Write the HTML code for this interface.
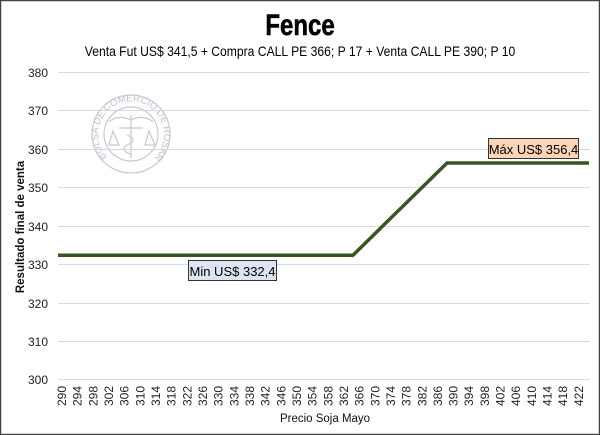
<!DOCTYPE html>
<html><head><meta charset="utf-8"><style>
html,body{margin:0;padding:0;background:#fff;}
svg{display:block;font-family:"Liberation Sans",sans-serif;}
</style></head><body>
<svg width="600" height="435" viewBox="0 0 600 435" xmlns="http://www.w3.org/2000/svg">
<rect x="0.5" y="0.5" width="599" height="434" fill="#fff" stroke="#444" stroke-width="1.5"/>
<text x="300" y="35" text-anchor="middle" font-size="30" font-weight="bold" stroke="#000" stroke-width="0.6" transform="translate(300 0) scale(0.8 1) translate(-300 0)" fill="#000">Fence</text>
<text x="300" y="56" text-anchor="middle" font-size="13.5" fill="#000" transform="translate(300 0) scale(0.9 1) translate(-300 0)">Venta Fut US$ 341,5 + Compra CALL PE 366; P 17 + Venta CALL PE 390; P 10</text>
<!-- seal -->
<g fill="none" stroke="#c4c9d4" stroke-width="1.2">
<circle cx="131" cy="134" r="39"/>
<circle cx="131" cy="134" r="27"/>
<line x1="119" y1="128" x2="143" y2="128"/>
<line x1="131" y1="115" x2="131" y2="158"/>
<path d="M113 131 l-4 14 h10 z M149 131 l-4 14 h10 z"/>
<path d="M131 120 c-10 -5 -18 -2 -22 2 M131 120 c10 -5 18 -2 22 2"/>
<path d="M127 135 c8 3 8 7 0 10 c-6 3 -2 8 4 9"/>
</g>
<path id="arc" d="M107 157 A33 33 0 1 1 155 157" fill="none"/>
<text font-size="9.5" fill="#bcc2cf"><textPath href="#arc">BOLSA DE COMERCIO DE ROSARIO</textPath></text>
<!-- gridlines -->
<g stroke="#d9d9d9" stroke-width="1">
<line x1="58" x2="590" y1="72.5" y2="72.5"/>
<line x1="58" x2="590" y1="110.5" y2="110.5"/>
<line x1="58" x2="590" y1="149.5" y2="149.5"/>
<line x1="58" x2="590" y1="187.5" y2="187.5"/>
<line x1="58" x2="590" y1="226.5" y2="226.5"/>
<line x1="58" x2="590" y1="264.5" y2="264.5"/>
<line x1="58" x2="590" y1="303.5" y2="303.5"/>
<line x1="58" x2="590" y1="341.5" y2="341.5"/>
<line x1="58" x2="590" y1="379.5" y2="379.5"/>
</g>
<g font-size="12" fill="#222" text-anchor="end">
<text x="48" y="77">380</text><text x="48" y="115">370</text><text x="48" y="154">360</text>
<text x="48" y="192">350</text><text x="48" y="231">340</text><text x="48" y="269">330</text>
<text x="48" y="308">320</text><text x="48" y="346">310</text><text x="48" y="384">300</text>
</g>
<text transform="translate(24 227) rotate(-90)" text-anchor="middle" font-size="11.5" font-weight="bold" fill="#111">Resultado final de venta</text>
<text x="325" y="422" text-anchor="middle" font-size="11.5" fill="#111">Precio Soja Mayo</text>
<polyline points="58,255.2 353,255.2 447,163 589,163" fill="none" stroke="#375623" stroke-width="3.5" stroke-linejoin="round"/>
<rect x="188.5" y="260.5" width="88" height="20" fill="#dce6f2" stroke="#333" stroke-width="1"/>
<text x="232.5" y="276" text-anchor="middle" font-size="13" fill="#000">Min US$ 332,4</text>
<rect x="488.5" y="138.5" width="90" height="20" fill="#fbd5b5" stroke="#333" stroke-width="1"/>
<text x="533.5" y="154" text-anchor="middle" font-size="13" fill="#000">Máx US$ 356,4</text>
<g font-size="12" fill="#222">
<text transform="translate(66 386) rotate(-90)" text-anchor="end">290</text>
<text transform="translate(81.7 386) rotate(-90)" text-anchor="end">294</text>
<text transform="translate(97.3 386) rotate(-90)" text-anchor="end">298</text>
<text transform="translate(113 386) rotate(-90)" text-anchor="end">302</text>
<text transform="translate(128.7 386) rotate(-90)" text-anchor="end">306</text>
<text transform="translate(144.3 386) rotate(-90)" text-anchor="end">310</text>
<text transform="translate(160 386) rotate(-90)" text-anchor="end">314</text>
<text transform="translate(175.6 386) rotate(-90)" text-anchor="end">318</text>
<text transform="translate(191.3 386) rotate(-90)" text-anchor="end">322</text>
<text transform="translate(207 386) rotate(-90)" text-anchor="end">326</text>
<text transform="translate(222.6 386) rotate(-90)" text-anchor="end">330</text>
<text transform="translate(238.3 386) rotate(-90)" text-anchor="end">334</text>
<text transform="translate(254 386) rotate(-90)" text-anchor="end">338</text>
<text transform="translate(269.6 386) rotate(-90)" text-anchor="end">342</text>
<text transform="translate(285.3 386) rotate(-90)" text-anchor="end">346</text>
<text transform="translate(301 386) rotate(-90)" text-anchor="end">350</text>
<text transform="translate(316.6 386) rotate(-90)" text-anchor="end">354</text>
<text transform="translate(332.3 386) rotate(-90)" text-anchor="end">358</text>
<text transform="translate(347.9 386) rotate(-90)" text-anchor="end">362</text>
<text transform="translate(363.6 386) rotate(-90)" text-anchor="end">366</text>
<text transform="translate(379.3 386) rotate(-90)" text-anchor="end">370</text>
<text transform="translate(394.9 386) rotate(-90)" text-anchor="end">374</text>
<text transform="translate(410.6 386) rotate(-90)" text-anchor="end">378</text>
<text transform="translate(426.3 386) rotate(-90)" text-anchor="end">382</text>
<text transform="translate(441.9 386) rotate(-90)" text-anchor="end">386</text>
<text transform="translate(457.6 386) rotate(-90)" text-anchor="end">390</text>
<text transform="translate(473.2 386) rotate(-90)" text-anchor="end">394</text>
<text transform="translate(488.9 386) rotate(-90)" text-anchor="end">398</text>
<text transform="translate(504.6 386) rotate(-90)" text-anchor="end">402</text>
<text transform="translate(520.2 386) rotate(-90)" text-anchor="end">406</text>
<text transform="translate(535.9 386) rotate(-90)" text-anchor="end">410</text>
<text transform="translate(551.6 386) rotate(-90)" text-anchor="end">414</text>
<text transform="translate(567.2 386) rotate(-90)" text-anchor="end">418</text>
<text transform="translate(582.9 386) rotate(-90)" text-anchor="end">422</text>
</g>
</svg>
</body></html>
